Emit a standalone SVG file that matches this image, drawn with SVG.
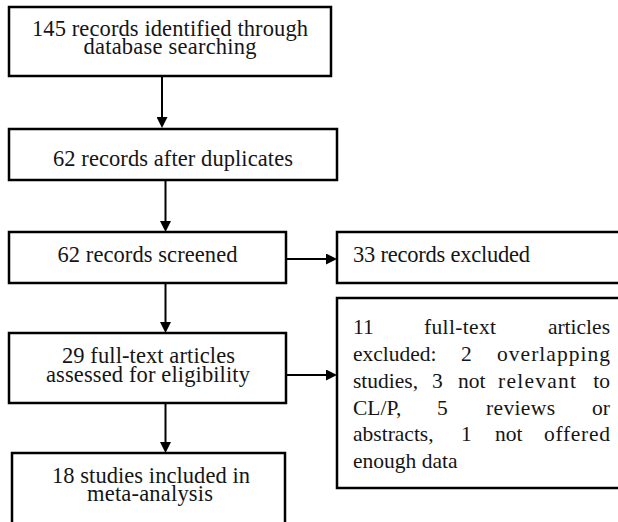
<svg xmlns="http://www.w3.org/2000/svg" width="618" height="522" viewBox="0 0 618 522">
<style>
.box{fill:#fff;stroke:#000;stroke-width:2.5}
.t{font-family:"Liberation Serif","Times New Roman","DejaVu Serif",serif;font-size:22.5px;fill:#151515}
.s{font-size:21.5px}
.m{text-anchor:middle}
.e{text-anchor:end}
.c{stroke:#000;stroke-width:2;fill:none;marker-end:url(#ah)}
</style>
<defs>
<marker id="ah" viewBox="0 0 11 11" refX="7" refY="5.5" markerWidth="11" markerHeight="11" markerUnits="userSpaceOnUse" orient="auto">
<path d="M0,0 L11,5.5 L0,11 z" fill="#000"/>
</marker>
</defs>
<rect width="618" height="522" fill="#fff"/>
<g id="connectors">
<line class="c" x1="162" y1="76" x2="162" y2="124"/>
<line class="c" x1="165.5" y1="180" x2="165.5" y2="228"/>
<line class="c" x1="165.5" y1="283" x2="165.5" y2="329"/>
<line class="c" x1="165.5" y1="403" x2="165.5" y2="449"/>
<line class="c" x1="286" y1="259" x2="333" y2="259"/>
<line class="c" x1="286" y1="375" x2="333" y2="375"/>
</g>
<g id="n1">
<rect class="box" x="9" y="7" width="322" height="69"/>
<text class="t m" x="170" y="36" textLength="276" lengthAdjust="spacing">145 records identified through</text>
<text class="t m" x="170" y="54" textLength="173" lengthAdjust="spacing">database searching</text>
</g>
<g id="n2">
<rect class="box" x="9" y="129" width="328" height="51"/>
<text class="t m" x="173" y="166" textLength="240" lengthAdjust="spacing">62 records after duplicates</text>
</g>
<g id="n3">
<rect class="box" x="9" y="232" width="277" height="51"/>
<text class="t m" x="147.5" y="262" textLength="180" lengthAdjust="spacing">62 records screened</text>
</g>
<g id="n4">
<rect class="box" x="9" y="333" width="277" height="70"/>
<text class="t m" x="148.5" y="363" textLength="173" lengthAdjust="spacing">29 full-text articles</text>
<text class="t m" x="148" y="382" textLength="204" lengthAdjust="spacing">assessed for eligibility</text>
</g>
<g id="n5">
<rect class="box" x="12" y="453" width="273" height="80"/>
<text class="t m" x="151" y="483" textLength="198" lengthAdjust="spacing">18 studies included in</text>
<text class="t m" x="150" y="501" textLength="126" lengthAdjust="spacing">meta-analysis</text>
</g>
<g id="n6">
<rect class="box" x="337" y="232" width="284" height="51"/>
<text class="t" x="353" y="262" textLength="177" lengthAdjust="spacing">33 records excluded</text>
</g>
<g id="n7">
<rect class="box" x="337" y="298" width="284" height="190"/>
<text class="t s" x="353" y="334">11</text>
<text class="t s" x="424" y="334" textLength="72" lengthAdjust="spacing">full-text</text>
<text class="t s e" x="610" y="334">articles</text>
<text class="t s" x="353" y="361">excluded:</text>
<text class="t s" x="461" y="361">2</text>
<text class="t s" x="497" y="361" textLength="113" lengthAdjust="spacing">overlapping</text>
<text class="t s" x="353" y="388">studies,</text>
<text class="t s" x="432" y="388">3</text>
<text class="t s" x="458" y="388">not</text>
<text class="t s" x="498" y="388" textLength="78" lengthAdjust="spacing">relevant</text>
<text class="t s e" x="610" y="388">to</text>
<text class="t s" x="353" y="414.5">CL/P,</text>
<text class="t s" x="437" y="414.5">5</text>
<text class="t s" x="486" y="414.5" textLength="69" lengthAdjust="spacing">reviews</text>
<text class="t s e" x="610" y="414.5">or</text>
<text class="t s" x="353" y="441">abstracts,</text>
<text class="t s" x="461" y="441">1</text>
<text class="t s" x="495" y="441">not</text>
<text class="t s" x="544" y="441" textLength="66" lengthAdjust="spacing">offered</text>
<text class="t s" x="353" y="468">enough data</text>
</g>
</svg>
